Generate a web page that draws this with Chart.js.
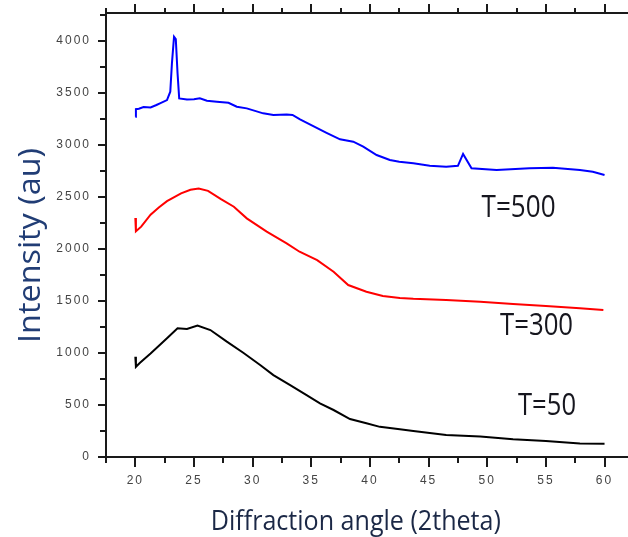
<!DOCTYPE html>
<html>
<head>
<meta charset="utf-8">
<script src="https://cdn.jsdelivr.net/npm/chart.js@4"></script>
<style>
  html, body { margin: 0; padding: 0; background: #fff; }
  #wrap { width: 628px; height: 537px; position: relative; }
</style>
</head>
<body>
<div id="wrap"><canvas id="xrd"></canvas></div>
<script>
// XRD scans, intensity vs 2theta, one trace per temperature
const T500_ANGLE = [20.0, 20.05, 20.3, 20.7, 21.3, 21.8, 22.1, 22.7, 22.98, 23.12, 23.3, 23.45, 23.6, 23.74,
  24.4, 25.0, 25.5, 26.1, 26.95, 27.94, 28.65, 29.5, 30.9, 31.77, 32.9, 33.4, 34.04, 35.17, 36.3, 37.45,
  38.58, 39.43, 40.57, 41.7, 42.5, 43.7, 45.1, 46.5, 47.5, 47.94, 48.66, 50.8, 53.6, 55.6, 57.9, 59.0, 60.0];
const T500_COUNTS = [3272, 3345, 3350, 3365, 3362, 3385, 3401, 3433, 3513, 3785, 4042, 4020, 3689, 3449,
  3439, 3440, 3449, 3426, 3417, 3407, 3369, 3353, 3305, 3288, 3295, 3290, 3247, 3183, 3118, 3055,
  3032, 2984, 2904, 2856, 2840, 2824, 2801, 2792, 2800, 2915, 2776, 2760, 2776, 2782, 2760, 2743, 2712];

const T300_ANGLE = [20.0, 20.05, 20.5, 21.3, 22.0, 22.7, 23.9, 24.7, 25.4, 26.2, 27.3, 28.4, 29.5, 31.2,
  32.9, 34.0, 35.5, 36.9, 38.15, 39.7, 41.1, 42.55, 43.7, 46.5, 49.4, 52.2, 55.0, 57.9, 59.9];
const T300_COUNTS = [2298, 2170, 2215, 2330, 2400, 2460, 2535, 2570, 2583, 2560, 2480, 2407, 2295, 2167,
  2055, 1974, 1894, 1782, 1654, 1589, 1548, 1530, 1522, 1510, 1493, 1471, 1452, 1430, 1413];

const T50_ANGLE = [20.0, 20.05, 20.4, 21.3, 22.7, 23.6, 24.4, 25.3, 26.4, 27.8, 29.2, 30.64, 31.77, 33.2,
  34.6, 35.74, 36.9, 38.3, 39.7, 40.85, 42.55, 43.7, 46.5, 49.4, 52.2, 55.0, 57.9, 60.0];
const T50_COUNTS = [964, 868, 907, 995, 1141, 1237, 1232, 1265, 1221, 1109, 1003, 885, 788, 692,
  596, 516, 452, 365, 324, 290, 266, 250, 212, 196, 170, 154, 131, 128];

const SERIES_NAMES = ['T=500', 'T=300', 'T=50'];
const SERIES_COLORS = ['#0000ff', '#ff0000', '#000000'];

// axis ranges; ticks every half-step, labels only on the whole step
const X_RANGE = [17.5, 62];
const Y_RANGE = [0, 4270];
const X_TICKS = [17.5, 20, 22.5, 25, 27.5, 30, 32.5, 35, 37.5, 40, 42.5, 45, 47.5, 50, 52.5, 55, 57.5, 60];
const Y_TICKS = [0, 250, 500, 750, 1000, 1250, 1500, 1750, 2000, 2250, 2500, 2750, 3000, 3250, 3500,
  3750, 4000, 4250];

const AXIS = '#1a1a1a';
const TICK_TXT = '#444';

const toPoints = (xs, ys) => xs.map((x, i) => ({ x, y: ys[i] }));

// text squeezed/stretched into a box so the narrow title face is kept
function fitText(ctx, text, cx, baseY, width, capH, color, angle) {
  ctx.save();
  ctx.letterSpacing = '0px';
  ctx.font = '100px "Open Sans"';
  const m = ctx.measureText(text);
  const natW = m.actualBoundingBoxLeft + m.actualBoundingBoxRight;
  const cap = ctx.measureText('H').actualBoundingBoxAscent;
  ctx.translate(cx, baseY);
  if (angle) ctx.rotate(angle);
  ctx.scale(width / natW, capH / cap);
  ctx.textAlign = 'left';
  ctx.textBaseline = 'alphabetic';
  ctx.fillStyle = color;
  ctx.fillText(text, -(m.actualBoundingBoxRight - m.actualBoundingBoxLeft) / 2, 0);
  ctx.restore();
}

const frameTicks = {
  id: 'frameTicks',
  beforeDraw(chart) {
    chart.ctx.letterSpacing = '2px';
  },
  afterDraw(chart) {
    const { ctx, chartArea: a, scales: { x, y } } = chart;
    ctx.save();
    ctx.letterSpacing = '0px';
    ctx.strokeStyle = AXIS;
    ctx.lineWidth = 2;
    ctx.beginPath();
    ctx.moveTo(a.left - 1, a.top);
    ctx.lineTo(a.right, a.top);
    x.ticks.forEach(t => {
      const px = Math.round(x.getPixelForValue(t.value));
      const major = t.value % 5 === 0;
      ctx.moveTo(px, a.bottom);
      ctx.lineTo(px, a.bottom + (major ? 10 : 6));
      ctx.moveTo(px, a.top);
      ctx.lineTo(px, a.top - (major ? 9 : 5));
    });
    y.ticks.forEach(t => {
      const py = Math.round(y.getPixelForValue(t.value));
      const major = t.value % 500 === 0;
      ctx.moveTo(a.left, py);
      ctx.lineTo(a.left - (major ? 8 : 6), py);
    });
    ctx.stroke();
    ctx.restore();

    fitText(ctx, 'Intensity (au)', 40, 244.5, 191, 22, '#213d75', -Math.PI / 2);
    fitText(ctx, 'Diffraction angle (2theta)', 356.5, 530, 287, 20, '#1b2846');
    fitText(ctx, SERIES_NAMES[0], 518, 217, 73, 23, '#16161e');
    fitText(ctx, SERIES_NAMES[1], 536, 335, 72, 23, '#16161e');
    fitText(ctx, SERIES_NAMES[2], 546.5, 415, 57, 22, '#16161e');
  }
};

const tickFont = { family: '"Liberation Sans", Arial, sans-serif', size: 12 };

new Chart(document.getElementById('xrd'), {
  type: 'line',
  data: {
    datasets: [
      { label: SERIES_NAMES[0], data: toPoints(T500_ANGLE, T500_COUNTS) },
      { label: SERIES_NAMES[1], data: toPoints(T300_ANGLE, T300_COUNTS) },
      { label: SERIES_NAMES[2], data: toPoints(T50_ANGLE, T50_COUNTS) },
    ].map((d, i) => ({
      ...d,
      borderColor: SERIES_COLORS[i],
      borderWidth: 2,
      pointRadius: 0,
      tension: 0,
      fill: false,
    })),
  },
  options: {
    responsive: true,
    maintainAspectRatio: false,
    animation: false,
    layout: { padding: { top: 13, right: 0, bottom: 0, left: 0 } },
    plugins: { legend: { display: false }, tooltip: { enabled: false } },
    scales: {
      x: {
        type: 'linear',
        min: X_RANGE[0],
        max: X_RANGE[1],
        grid: { display: false, drawTicks: false },
        border: { display: true, color: AXIS, width: 2 },
        afterBuildTicks: s => { s.ticks = X_TICKS.map(value => ({ value })); },
        ticks: {
          autoSkip: false,
          maxRotation: 0,
          padding: 16,
          color: TICK_TXT,
          font: tickFont,
          callback: v => (v % 5 === 0 ? v : ''),
        },
        afterFit: s => {
          s.height = 80;
          s.paddingLeft = 0;
          s.paddingRight = 0;
        },
      },
      y: {
        min: Y_RANGE[0],
        max: Y_RANGE[1],
        grid: { display: false, drawTicks: false },
        border: { display: true, color: AXIS, width: 2 },
        afterBuildTicks: s => { s.ticks = Y_TICKS.map(value => ({ value })); },
        ticks: {
          autoSkip: false,
          padding: 15,
          color: TICK_TXT,
          font: tickFont,
          callback: v => (v % 500 === 0 ? v : ''),
        },
        afterFit: s => {
          s.width = 106;
          s.paddingTop = 0;
          s.paddingBottom = 0;
        },
      },
    },
  },
  plugins: [frameTicks],
});
</script>
</body>
</html>
